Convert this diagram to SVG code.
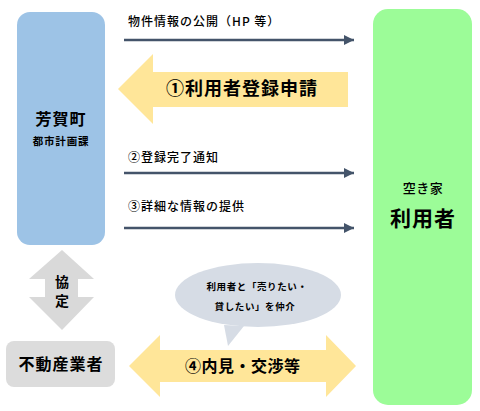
<svg xmlns="http://www.w3.org/2000/svg" width="480" height="411" viewBox="0 0 480 411">
<defs>
<style>
text{font-family:"Noto Sans CJK JP","Noto Sans",sans-serif;fill:#000}
.b{font-weight:bold}
.lbl{font-size:12px;letter-spacing:1px;font-weight:500}
.line{stroke:#44546a;stroke-width:2.5;fill:none}
.yel{fill:#ffe699}
.gry{fill:#d9d9d9}
</style>
<marker id="ah" viewBox="0 0 10 10" refX="10" refY="5" markerWidth="4" markerHeight="4" orient="auto" markerUnits="strokeWidth">
<path d="M0,0 L10,5 L0,10 z" fill="#44546a"/>
</marker>
</defs>
<rect width="480" height="411" fill="#fff"/>

<g id="haga">
<rect x="17" y="12" width="88" height="233" rx="13" fill="#9dc3e6"/>
<text class="b" x="61" y="125" font-size="16" text-anchor="middle" letter-spacing="1">芳賀町</text>
<text class="b" x="61" y="145" font-size="10.5" text-anchor="middle" letter-spacing="0.8">都市計画課</text>
</g>

<g id="user">
<rect x="373" y="9" width="99" height="396" rx="15" fill="#9cfc98"/>
<text x="423" y="193" font-size="13" text-anchor="middle" letter-spacing="0.5" font-weight="500">空き家</text>
<text class="b" x="423" y="226" font-size="21" text-anchor="middle" letter-spacing="1">利用者</text>
</g>

<g id="agent">
<rect x="6" y="341" width="109" height="46" rx="8" fill="#dcdcdc"/>
<text class="b" x="61" y="370" font-size="16" text-anchor="middle" letter-spacing="1">不動産業者</text>
</g>

<g id="kyotei">
<path class="gry" d="M62,250 L94,279 L78,279 L78,297 L94,297 L62,330 L29,297 L45,297 L45,279 L29,279 z"/>
<text class="b" x="62" y="287" font-size="14" text-anchor="middle">協</text>
<text class="b" x="62" y="306" font-size="14" text-anchor="middle">定</text>
</g>

<g id="bubble">
<path d="M224,325 L228,346 L244,326 z" fill="#d6dce5"/>
<ellipse cx="258" cy="295" rx="83" ry="32" fill="#d6dce5"/>
<text class="b" x="257" y="290" font-size="9.5" text-anchor="middle" letter-spacing="0.6">利用者と「売りたい・</text>
<text class="b" x="255" y="310" font-size="9.5" text-anchor="middle" letter-spacing="0.6">貸したい」を仲介</text>
</g>

<g id="connectors">
<line class="line" x1="124" y1="40" x2="354" y2="40" marker-end="url(#ah)"/>
<text class="lbl" x="128" y="26">物件情報の公開（HP 等）</text>

<path class="yel" d="M118,89 L153,54 L153,72 L348,72 L348,107 L153,107 L153,124 z"/>
<text class="b" x="166" y="95" font-size="18" letter-spacing="1">①利用者登録申請</text>

<line class="line" x1="124" y1="173" x2="354" y2="173" marker-end="url(#ah)"/>
<text class="lbl" x="128" y="162">②登録完了通知</text>

<line class="line" x1="124" y1="228" x2="354" y2="228" marker-end="url(#ah)"/>
<text class="lbl" x="128" y="211">③詳細な情報の提供</text>

<path class="yel" d="M129,366 L160,335 L160,350 L326,350 L326,335 L356,366 L326,397 L326,382 L160,382 L160,397 z"/>
<text class="b" x="185" y="372" font-size="16" letter-spacing="0.5">④内見・交渉等</text>
</g>
</svg>
